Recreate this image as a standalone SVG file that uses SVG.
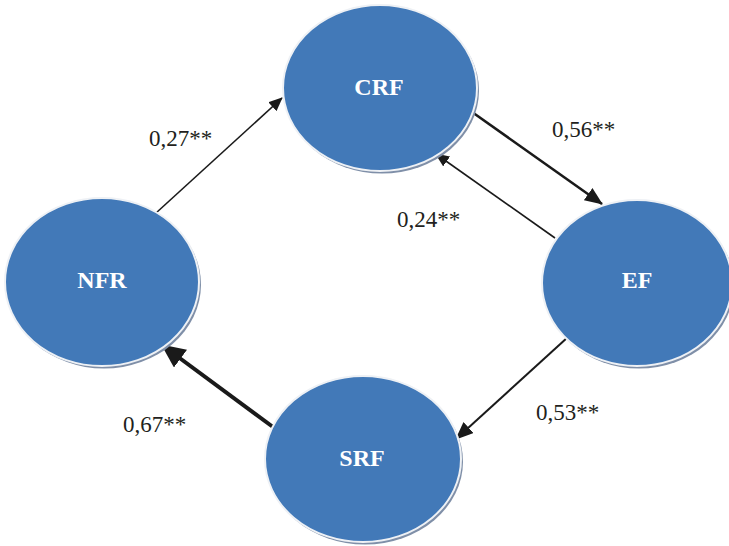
<svg xmlns="http://www.w3.org/2000/svg" width="729" height="546" viewBox="0 0 729 546">
  <style>
    .shadow { fill: #7f8fa8; }
    .node { fill: #4279b8; stroke: #eef1f5; stroke-width: 2; }
    .name { font-family: "Liberation Serif", "Times New Roman", serif; font-weight: bold; font-size: 24px; fill: #ffffff; text-anchor: middle; dominant-baseline: central; }
    .coef { font-family: "Liberation Serif", "Times New Roman", serif; font-size: 23px; fill: #231f20; }
    .edge { stroke: #1a1a1a; fill: none; }
  </style>
  <defs>
    <marker id="headS" markerUnits="userSpaceOnUse" markerWidth="14" markerHeight="12" refX="13" refY="6" orient="auto">
      <path d="M0,0 L14,6 L0,12 Z" fill="#1a1a1a"/>
    </marker>
    <marker id="headM" markerUnits="userSpaceOnUse" markerWidth="18" markerHeight="15" refX="17" refY="7.5" orient="auto">
      <path d="M0,0 L18,7.5 L0,15 Z" fill="#1a1a1a"/>
    </marker>
    <marker id="headL" markerUnits="userSpaceOnUse" markerWidth="24" markerHeight="22" refX="23" refY="11" orient="auto">
      <path d="M0,0 L24,11 L0,22 Z" fill="#1a1a1a"/>
    </marker>
  </defs>

  <g id="connectors">
    <line class="edge" x1="156" y1="213" x2="282" y2="98" stroke-width="1.6" marker-end="url(#headS)"/>
    <line class="edge" x1="472" y1="112" x2="602" y2="204" stroke-width="2.6" marker-end="url(#headM)"/>
    <line class="edge" x1="555" y1="238" x2="436" y2="154" stroke-width="1.6" marker-end="url(#headS)"/>
    <line class="edge" x1="568" y1="337" x2="456" y2="439" stroke-width="2" marker-end="url(#headM)"/>
    <line class="edge" x1="273" y1="427" x2="162" y2="345" stroke-width="4" marker-end="url(#headL)"/>
  </g>

  <g id="node-crf">
    <ellipse class="shadow" cx="382" cy="90.5" rx="97" ry="83"/>
    <ellipse class="node" cx="380" cy="88" rx="97" ry="83"/>
    <text class="name" x="379" y="87">CRF</text>
  </g>
  <g id="node-nfr">
    <ellipse class="shadow" cx="104" cy="284.5" rx="97" ry="84"/>
    <ellipse class="node" cx="102" cy="282" rx="97" ry="84"/>
    <text class="name" x="102" y="280">NFR</text>
  </g>
  <g id="node-ef">
    <ellipse class="shadow" cx="639" cy="285.5" rx="95" ry="83"/>
    <ellipse class="node" cx="637" cy="283" rx="95" ry="83"/>
    <text class="name" x="637" y="280">EF</text>
  </g>
  <g id="node-srf">
    <ellipse class="shadow" cx="365" cy="461.5" rx="98" ry="83"/>
    <ellipse class="node" cx="363" cy="459" rx="98" ry="83"/>
    <text class="name" x="362" y="458">SRF</text>
  </g>

  <g id="coefficients">
    <text class="coef" x="149" y="146">0,27**</text>
    <text class="coef" x="552" y="137">0,56**</text>
    <text class="coef" x="397" y="227">0,24**</text>
    <text class="coef" x="536" y="420">0,53**</text>
    <text class="coef" x="123" y="432">0,67**</text>
  </g>
</svg>
